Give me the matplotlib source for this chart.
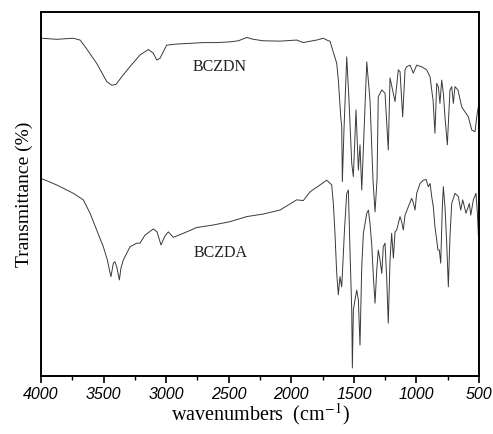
import matplotlib
matplotlib.use("Agg")
import matplotlib.pyplot as plt
from matplotlib.ticker import MultipleLocator

plt.rcParams["mathtext.fontset"] = "stix"

# BCZDN (upper trace), wavenumber (cm-1) and transmittance (arb. units)
bczdn_wn = [3995, 3875, 3742, 3688, 3648, 3555, 3475, 3435, 3401, 3355, 3289, 3209, 3142,
            3103, 3075, 3049, 2996, 2916, 2809, 2703, 2596, 2490, 2423, 2356, 2303, 2224,
            2090, 1957, 1904, 1877, 1797, 1744, 1704, 1691, 1637, 1624, 1605, 1597, 1592,
            1579, 1557, 1539, 1517, 1504, 1483, 1464, 1451, 1437, 1397, 1371, 1347, 1331,
            1315, 1305, 1277, 1251, 1225, 1211, 1171, 1145, 1131, 1110, 1091, 1078, 1051,
            1025, 998, 955, 918, 891, 878, 867, 852, 838, 825, 812, 798, 785, 772, 753,
            732, 718, 705, 692, 668, 638, 612, 585, 558, 532, 516, 505]
bczdn_t = [92.8, 92.5, 92.8, 92.3, 90.5, 85.9, 80.9, 79.9, 80.1, 82.2, 85.0, 88.2, 89.7,
           88.7, 86.8, 87.3, 90.9, 91.2, 91.4, 91.6, 91.6, 91.8, 92.1, 93.0, 92.5, 92.1,
           92.0, 92.3, 91.6, 91.8, 92.3, 92.8, 92.1, 92.0, 85.9, 81.3, 71.2, 68.5, 53.4,
           67.6, 87.7, 75.8, 58.4, 54.8, 73.1, 56.6, 63.5, 51.1, 86.3, 75.8, 53.8, 45.1,
           53.8, 76.7, 78.6, 77.7, 62.1, 81.9, 75.4, 84.1, 83.6, 71.2, 84.1, 85.0, 85.4,
           83.2, 85.4, 84.9, 84.1, 82.2, 78.6, 75.8, 66.7, 80.4, 79.5, 74.9, 81.3, 77.7,
           71.2, 63.5, 78.6, 79.5, 74.9, 79.5, 78.6, 73.9, 72.6, 71.2, 67.6, 67.1, 71.7, 74.0]

# BCZDA (lower trace)
bczda_wn = [4000, 3875, 3742, 3662, 3608, 3555, 3502, 3470, 3453, 3441, 3422, 3409, 3393,
            3374, 3361, 3342, 3289, 3235, 3209, 3169, 3103, 3073, 3041, 3009, 2983, 2943,
            2863, 2756, 2623, 2490, 2356, 2224, 2090, 1957, 1904, 1850, 1770, 1717, 1677,
            1664, 1651, 1637, 1624, 1611, 1597, 1589, 1575, 1557, 1544, 1531, 1517, 1512,
            1504, 1491, 1477, 1464, 1451, 1437, 1424, 1397, 1384, 1371, 1357, 1344, 1331,
            1317, 1305, 1291, 1277, 1265, 1251, 1238, 1225, 1211, 1198, 1184, 1171, 1158,
            1131, 1118, 1105, 1091, 1065, 1038, 1024, 1011, 998, 971, 945, 923, 905, 891,
            878, 865, 852, 838, 828, 817, 806, 800, 793, 785, 772, 758, 745, 732, 718, 692,
            665, 646, 630, 604, 577, 566, 545, 524, 513, 505]
bczda_t = [54.3, 52.5, 50.2, 48.4, 44.7, 40.1, 35.5, 31.9, 29.1, 27.3, 31.0, 31.4, 29.7,
           26.4, 29.7, 31.9, 35.5, 36.5, 36.5, 38.7, 40.4, 39.6, 36.0, 38.5, 39.6, 38.1,
           39.2, 40.8, 41.5, 42.4, 43.8, 44.5, 45.6, 48.4, 48.2, 50.6, 52.5, 53.8, 52.5,
           47.4, 39.2, 28.2, 22.3, 27.3, 24.5, 30.0, 40.1, 50.2, 51.1, 34.6, 18.1, 2.2,
           18.1, 20.9, 23.6, 20.9, 8.5, 30.0, 39.2, 44.7, 45.6, 41.9, 36.0, 27.3, 20.0,
           29.1, 34.6, 31.9, 28.2, 35.5, 36.5, 27.3, 14.5, 31.9, 39.2, 32.4, 39.6, 40.1,
           43.8, 42.4, 40.1, 44.2, 46.5, 48.8, 47.5, 45.6, 50.2, 52.9, 53.8, 54.0, 52.0, 52.9,
           49.3, 46.5, 41.0, 37.4, 34.6, 34.6, 31.0, 38.0, 46.5, 52.0, 46.5, 36.5, 24.5, 38.3,
           47.4, 50.2, 49.3, 45.6, 48.4, 44.7, 47.4, 44.2, 48.4, 50.2, 44.8, 38.7]

labels = ["BCZDN", "BCZDA"]
label_pos = [(2570, 84.9), (2562, 33.9)]

fig = plt.figure(figsize=(4.93, 4.34), dpi=100)
ax = fig.add_axes([0.0832, 0.1336, 0.8884, 0.8387])

ax.plot(bczdn_wn, bczdn_t, color="#3a3a3a", lw=0.7)
ax.plot(bczda_wn, bczda_t, color="#3a3a3a", lw=0.7)

for name, (x, y) in zip(labels, label_pos):
    ax.text(x, y, name, ha="center", va="center", fontsize=11.5,
            family="Liberation Serif", color="#222222")

ax.set_xlim(4000, 500)
ax.set_ylim(0, 100)
ax.xaxis.set_major_locator(MultipleLocator(500))
ax.xaxis.set_minor_locator(MultipleLocator(250))
ax.tick_params(axis="x", which="major", direction="out", length=5, width=1.2, pad=3)
ax.tick_params(axis="x", which="minor", direction="out", length=3, width=1.0)
ax.set_yticks([])
for lab in ax.get_xticklabels():
    lab.set_family("Liberation Sans")
    lab.set_style("italic")
    lab.set_fontsize(11.5)
for sp in ax.spines.values():
    sp.set_linewidth(1.4)

ax.set_xlabel("wavenumbers  (cm$^{-1}$)", fontsize=14.5, family="Liberation Serif")
ax.xaxis.set_label_coords(0.5, -0.068)
ax.set_ylabel("Transmittance (%)", fontsize=14, family="Liberation Serif", labelpad=6)

fig.savefig("out.png", dpi=100)
